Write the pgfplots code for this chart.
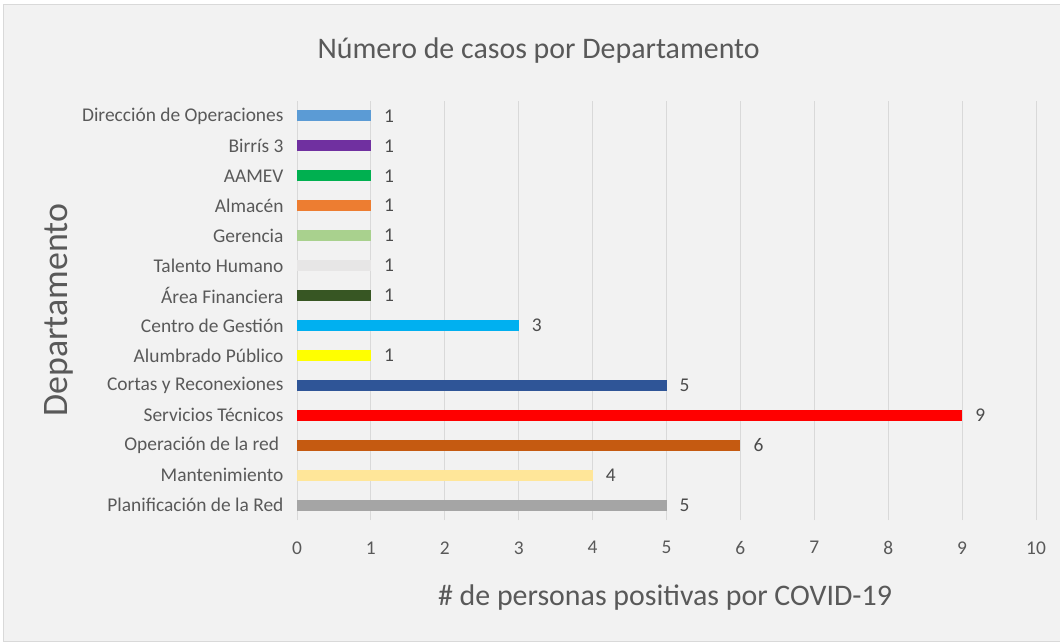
\documentclass[border=0pt]{standalone}
\usepackage{pgfplots}
\pgfplotsset{compat=1.18}
\usepackage{fontspec}
\setmainfont{Carlito}
\definecolor{bgc}{HTML}{F2F2F2}
\definecolor{gridc}{HTML}{D9D9D9}
\definecolor{txt}{HTML}{595959}
\definecolor{c1}{HTML}{A5A5A5}
\definecolor{c2}{HTML}{FFE699}
\definecolor{c3}{HTML}{C55A11}
\definecolor{c4}{HTML}{FF0000}
\definecolor{c5}{HTML}{2F5597}
\definecolor{c6}{HTML}{FFFF00}
\definecolor{c7}{HTML}{00B0F0}
\definecolor{c8}{HTML}{375623}
\definecolor{c9}{HTML}{E7E6E6}
\definecolor{c10}{HTML}{A9D18E}
\definecolor{c11}{HTML}{ED7D31}
\definecolor{c12}{HTML}{00B050}
\definecolor{c13}{HTML}{7030A0}
\definecolor{c14}{HTML}{5B9BD5}
\begin{document}
\begin{tikzpicture}
\useasboundingbox (0,0) rectangle (1060bp,644bp);
\fill[white] (0,0) rectangle (1060bp,644bp);
\filldraw[fill=bgc, draw=gridc, line width=1bp] (3bp,2bp) rectangle (1062bp,639bp);
\begin{axis}[
  at={(297bp,124bp)}, anchor=south west,
  scale only axis, width=739bp, height=419bp,
  xmin=0, xmax=10, ymin=-0.5, ymax=13.5,
  xbar, bar width=11bp, bar shift=0pt,
  xtick={0,...,10}, ytick={0,...,13},
  yticklabels={Planificación de la Red, Mantenimiento, Operación de la red\hphantom{ }, Servicios Técnicos, Cortas y Reconexiones, Alumbrado Público, Centro de Gestión, Área Financiera, Talento Humano, Gerencia, Almacén, AAMEV, Birrís 3, Dirección de Operaciones},
  major tick length=0pt,
  axis line style={draw=none},
  xmajorgrids, major grid style={gridc, line width=1bp},
  tick label style={font=\fontsize{19.5}{22}\selectfont, text=txt},
  /pgf/number format/assume math mode=true,
  yticklabel style={xshift=-10bp},
  xticklabel style={yshift=-18bp},
  title={Número de casos por Departamento},
  title style={font=\fontsize{30}{34}\selectfont, text=txt, at={(rel axis cs:0.327,1.106)}, anchor=center},
  xlabel={\# de personas positivas por COVID-19},
  xlabel style={font=\fontsize{30}{34}\selectfont, text=txt, at={(rel axis cs:0.498,-0.186)}, anchor=center},
  ylabel={Departamento},
  ylabel style={font=\fontsize{36}{40}\selectfont, text=txt, at={(rel axis cs:-0.322,0.501)}, anchor=center, rotate=0},
  nodes near coords,
  every node near coord/.append style={font=\fontsize{19.5}{22}\selectfont, text=txt!85!black, anchor=west, inner sep=0pt, xshift=13bp},
]
\addplot[fill=c1, draw=none] coordinates {(5,0)};
\addplot[fill=c2, draw=none] coordinates {(4,1)};
\addplot[fill=c3, draw=none] coordinates {(6,2)};
\addplot[fill=c4, draw=none] coordinates {(9,3)};
\addplot[fill=c5, draw=none] coordinates {(5,4)};
\addplot[fill=c6, draw=none] coordinates {(1,5)};
\addplot[fill=c7, draw=none] coordinates {(3,6)};
\addplot[fill=c8, draw=none] coordinates {(1,7)};
\addplot[fill=c9, draw=none] coordinates {(1,8)};
\addplot[fill=c10, draw=none] coordinates {(1,9)};
\addplot[fill=c11, draw=none] coordinates {(1,10)};
\addplot[fill=c12, draw=none] coordinates {(1,11)};
\addplot[fill=c13, draw=none] coordinates {(1,12)};
\addplot[fill=c14, draw=none] coordinates {(1,13)};
\end{axis}
\end{tikzpicture}
\end{document}
